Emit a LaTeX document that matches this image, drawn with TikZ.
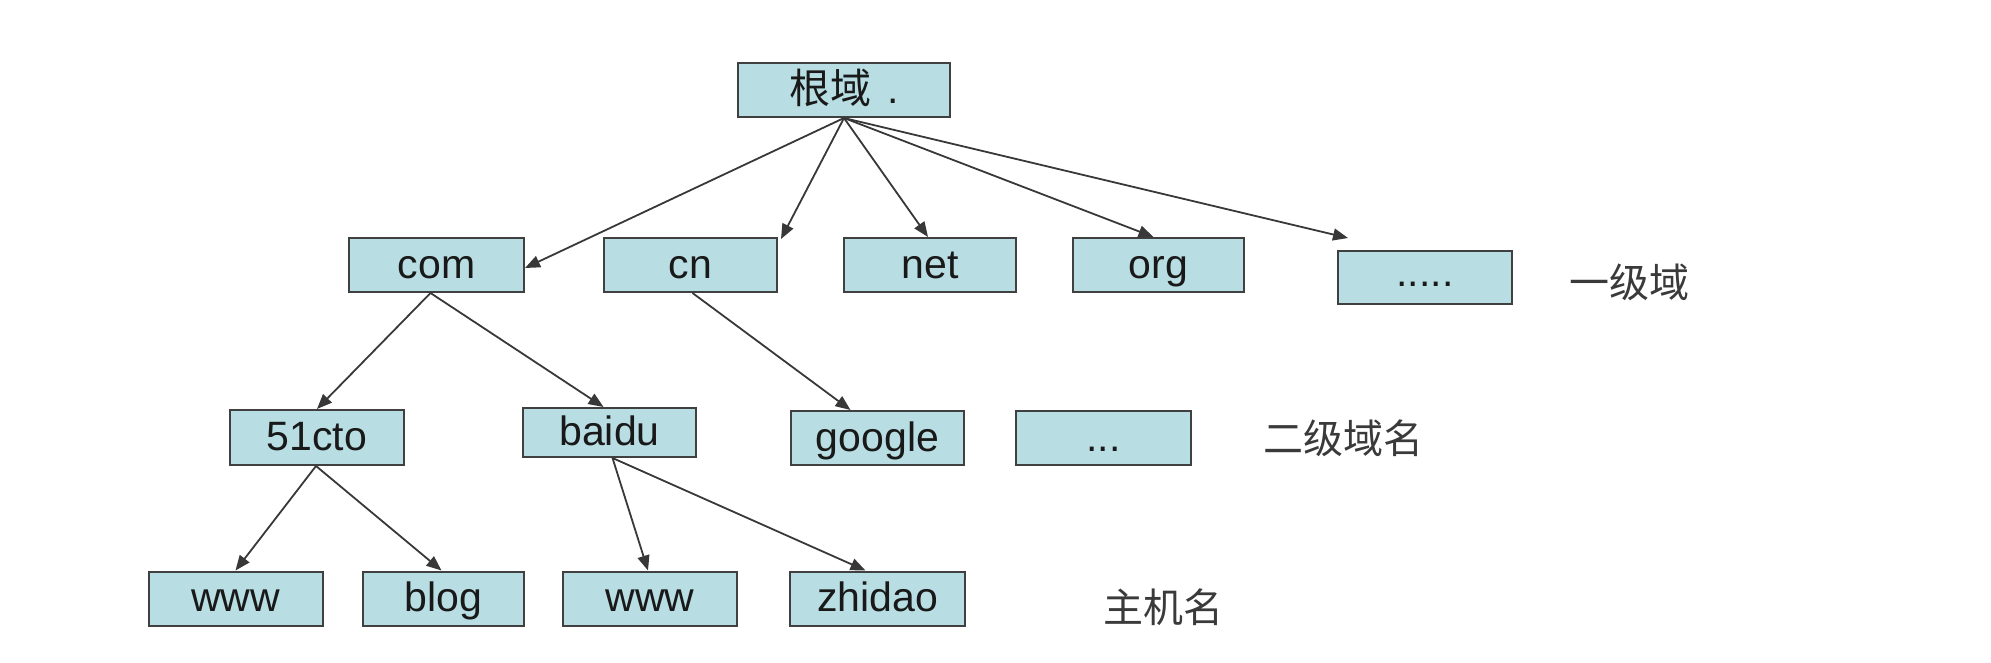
\documentclass[tikz,border=0pt]{standalone}
\usepackage{fontspec}
\setmainfont{Liberation Sans}
\newfontfamily\cjk{Noto Sans CJK SC}
\usetikzlibrary{arrows.meta}
\definecolor{boxfill}{HTML}{B8DEE3}
\definecolor{boxline}{HTML}{404040}
\definecolor{arrowcol}{HTML}{383838}
\definecolor{labelcol}{HTML}{3A3A3A}
\begin{document}
\begin{tikzpicture}[x=1pt,y=-1pt,
  dbox/.style={draw=boxline, line width=2pt, fill=boxfill, inner sep=0pt,
    minimum width=174pt, minimum height=54pt, text height=35pt, text depth=9pt,
    font=\fontsize{41}{48}\selectfont, text=black!90},
  lvl/.style={font=\cjk\fontsize{40}{48}\selectfont, text=labelcol, inner sep=0pt},
  link/.style={draw=arrowcol, line width=1.8pt, -{Triangle[length=15pt,width=12pt]}}
]
\useasboundingbox (0,0) rectangle (1991,662);
% root
\node[dbox, minimum width=212pt] (root) at (844,90) {{\cjk 根域} \hspace{0.1em}.};
% level 1
\node[dbox, minimum width=175pt] (com) at (436.5,265) {com};
\node[dbox, minimum width=173pt] (cn) at (690.5,265) {cn};
\node[dbox, minimum width=172pt] (net) at (930,265) {net};
\node[dbox, minimum width=171pt] (org) at (1158.5,265) {org};
\node[dbox, minimum height=53pt, text height=30pt, text depth=12pt] (d1) at (1425,277.5) {.....};
\node[lvl] (l1) at (1629,282) {一级域};
\coordinate (d1tip) at (1348,238);
% level 2
\node[dbox, minimum height=55pt] (cto) at (317,437.5) {51cto};
\node[dbox, minimum width=173pt, minimum height=49pt] (baidu) at (609.5,432.5) {baidu};
\node[dbox, minimum width=173pt] (google) at (877.5,438) {google};
\node[dbox, minimum width=175pt] (d2) at (1103.5,438) {...};
\node[lvl] (l2) at (1343,438) {二级域名};
% level 3
\node[dbox, minimum width=174pt] (www1) at (235.5,598.5) {www};
\node[dbox, minimum width=161pt] (blog) at (443.5,598.5) {blog};
\node[dbox, minimum width=174pt] (www2) at (650,598.5) {www};
\node[dbox, minimum width=175pt] (zhidao) at (877.5,598.5) {zhidao};
\node[lvl] (l3) at (1163,607) {主机名};
% connectors
\draw[link] (root.south) -- ([yshift=-3pt]com.east);
\draw[link] (root.south) -- ([xshift=3pt,yshift=-2pt]cn.north east);
\draw[link] (root.south) -- ([xshift=-2pt]net.north);
\draw[link] (root.south) -- ([xshift=-5pt]org.north);
\draw[link] (root.south) -- (d1tip);
\draw[link] ([xshift=-6pt]com.south) -- (cto.north);
\draw[link] ([xshift=-6pt]com.south) -- ([xshift=-6pt]baidu.north);
\draw[link] ([xshift=2pt]cn.south) -- ([xshift=-27pt]google.north);
\draw[link] ([xshift=-1pt]cto.south) -- (www1.north);
\draw[link] ([xshift=-1pt]cto.south) -- ([xshift=-2pt]blog.north);
\draw[link] ([xshift=3pt]baidu.south) -- ([xshift=-2pt]www2.north);
\draw[link] ([xshift=3pt]baidu.south) -- ([xshift=-12pt]zhidao.north);
\end{tikzpicture}
\end{document}
